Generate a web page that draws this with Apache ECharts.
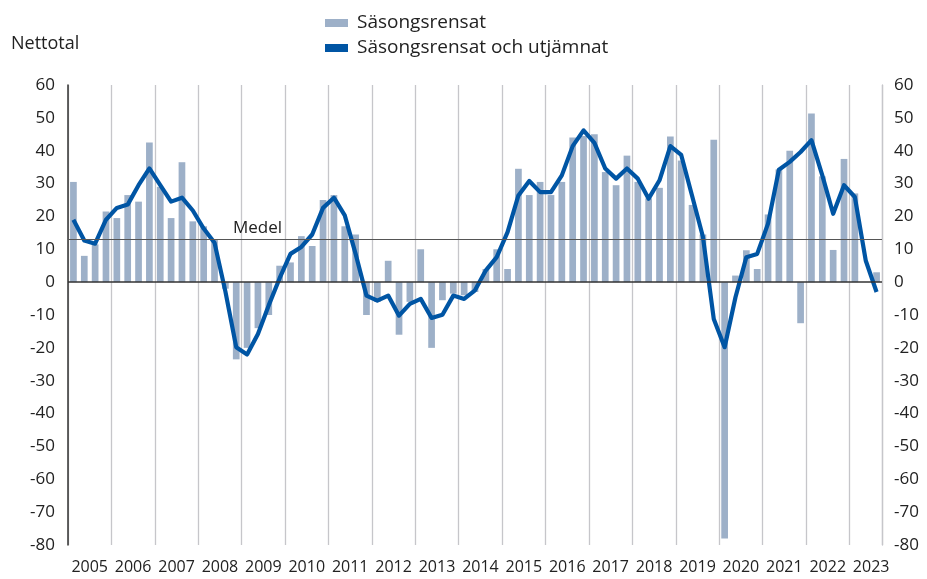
<!DOCTYPE html>
<html>
<head>
<meta charset="utf-8">
<script src="https://cdn.jsdelivr.net/npm/echarts@6/dist/echarts.min.js"></script>
<style>
html,body{margin:0;padding:0;background:#fff;}
#c{width:927px;height:579px;}
</style>
</head>
<body>
<div id="c"></div>
<script>
// Year labels shown on the x axis
const yearLabels = ['2005','2006','2007','2008','2009','2010','2011','2012','2013','2014','2015','2016','2017','2018','2019','2020','2021','2022','2023'];
// Quarterly categories (2005 Q1 – 2023 Q3)
const quarterLabels = [];
yearLabels.forEach(function (y) { ['K1','K2','K3','K4'].forEach(function (q) { quarterLabels.push(y + ' ' + q); }); });
quarterLabels.length = 75;

// Säsongsrensat (bars)
const sasongsrensat = [
  30.5, 8, 11.5, 21.5,
  19.5, 26.5, 24.5, 42.5,
  29, 19.5, 36.5, 18.5,
  17, 13, -2, -23.5,
  -20, -14, -10, 5,
  6, 14, 11, 25,
  26.5, 17, 14.5, -10,
  -6, 6.5, -16, -6,
  10, -20, -5.5, -3.5,
  -4, -3, 4, 10,
  4, 34.5, 26.5, 30.5,
  26.5, 30.5, 44, 44.5,
  45, 33.5, 29.5, 38.5,
  30.5, 25.5, 28.7, 44.3,
  37, 23.5, 14.5, 43.3,
  -78, 2, 9.7, 4,
  20.6, 34.3, 40, -12.5,
  51.3, 32.2, 9.8, 37.5,
  27, 0, 3
];

// Säsongsrensat och utjämnat (line)
const utjamnat = [
  19, 12.7, 11.7, 19,
  22.6, 23.6, 29.5, 34.6,
  29.5, 24.5, 25.7, 21.8,
  16.3, 12, -2.8, -19.8,
  -22, -15.8, -7, 1.2,
  8.6, 10.7, 14.5, 22.6,
  25.7, 20.3, 8.6, -4.1,
  -5.6, -4.1, -10.2, -6.6,
  -5.1, -10.9, -9.9, -4.1,
  -5.1, -2.5, 3.6, 7.6,
  15.2, 26.4, 30.8, 27.4,
  27.4, 32.5, 41.4, 46.2,
  42.4, 34.6, 31.5, 34.6,
  31.5, 25.4, 31, 41.4,
  38.7, 26.3, 13.8, -11.2,
  -19.8, -4.6, 7.6, 8.6,
  17.8, 34.2, 36.6, 39.6,
  43.2, 32.5, 20.8, 29.5,
  25.9, 6.6, -3
];

// Average line
const medel = 13;
// Y axis range
const yMin = -80, yMax = 60, yStep = 10;

const FONT = 'Open Sans';
const TXT = '#222';
const chart = echarts.init(document.getElementById('c'), null, {renderer: 'canvas'});

const option = {
  animation: false,
  backgroundColor: '#fff',
  textStyle: {fontFamily: FONT},
  title: {
    text: 'Nettotal', left: 11, top: 35, padding: 0,
    textStyle: {fontFamily: FONT, fontSize: 18, fontWeight: 'normal', color: TXT}
  },
  legend: {
    orient: 'vertical', left: 325, top: 13.5, padding: 0,
    itemWidth: 23, itemHeight: 8, itemGap: 6,
    textStyle: {fontFamily: FONT, fontSize: 19, color: TXT, lineHeight: 18, padding: [0, 0, 0, 4]},
    data: [
      {name: 'Säsongsrensat', icon: 'rect'},
      {name: 'Säsongsrensat och utjämnat', icon: 'rect', lineStyle: {width: 8}}
    ]
  },
  grid: {left: 68, right: 45, top: 85, bottom: 34},
  xAxis: [
    {
      type: 'category', data: quarterLabels, boundaryGap: true,
      axisLine: {show: false, onZero: false}, axisTick: {show: false}, axisLabel: {show: false},
      splitLine: {show: true, interval: function (i) { return i % 4 === 0; }, lineStyle: {color: '#c6c6ca', width: 1.3}}
    },
    {
      type: 'value', min: 0, max: quarterLabels.length, interval: 2, position: 'bottom',
      axisLine: {show: false, onZero: false}, axisTick: {show: false}, splitLine: {show: false},
      axisLabel: {
        margin: 14, fontSize: 16, color: TXT, fontFamily: FONT,
        showMinLabel: true, showMaxLabel: true,
        formatter: function (v) { return (v % 4 === 2) ? yearLabels[(v - 2) / 4] : ''; }
      }
    }
  ],
  yAxis: [
    {
      type: 'value', min: yMin, max: yMax, interval: yStep,
      axisLine: {show: true, onZero: false, lineStyle: {color: '#333', width: 1.5}},
      axisTick: {show: false}, splitLine: {show: false},
      axisLabel: {margin: 13, fontSize: 17, color: TXT, fontFamily: FONT}
    },
    {
      type: 'value', min: yMin, max: yMax, interval: yStep, position: 'right',
      axisLine: {show: true, onZero: false, lineStyle: {color: '#c6c6ca', width: 1.3}},
      axisTick: {show: false}, splitLine: {show: false},
      axisLabel: {margin: 12, fontSize: 17, color: TXT, fontFamily: FONT}
    }
  ],
  series: [
    {
      name: 'Säsongsrensat', type: 'bar', data: sasongsrensat,
      xAxisIndex: 0, yAxisIndex: 0, barWidth: 6.7, z: 2,
      itemStyle: {color: '#9db0c8'},
      markLine: {
        silent: true, symbol: 'none', animation: false,
        data: [
          {yAxis: 0, lineStyle: {color: '#333', width: 1.5, type: 'solid'}, label: {show: false}},
          {yAxis: medel, lineStyle: {color: '#555', width: 1.2, type: 'solid'},
           label: {show: true, formatter: 'Medel', position: 'insideStartTop', distance: [165, 3], fontSize: 17, color: TXT, fontFamily: FONT}}
        ]
      }
    },
    {
      name: 'Säsongsrensat och utjämnat', type: 'line', data: utjamnat,
      xAxisIndex: 0, yAxisIndex: 0, symbol: 'none', showSymbol: false, z: 3,
      lineStyle: {color: '#0055a4', width: 4.2, join: 'round'},
      itemStyle: {color: '#0055a4'}
    }
  ]
};
chart.setOption(option);
</script>
</body>
</html>
